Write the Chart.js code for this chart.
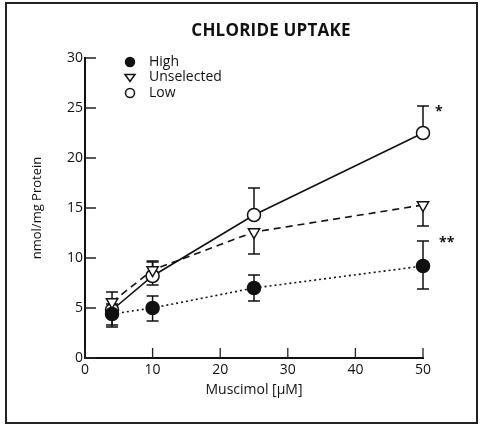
<!DOCTYPE html>
<html>
<head>
<meta charset="utf-8">
<script src="https://cdn.jsdelivr.net/npm/chart.js@4.4.1/dist/chart.umd.min.js"></script>
<style>
  body { margin: 0; background: #fff; }
  #wrap { position: relative; width: 480px; height: 425px; }
  #frame { position: absolute; left: 5px; top: 2px; width: 469px; height: 418px; border: 2px solid #222; pointer-events: none; }
  #title { position: absolute; top: 18px; left: 0; width: 542px; text-align: center; font: bold 17px "Open Sans"; color: #111; letter-spacing: 0.2px; }
</style>
</head>
<body>
<div id="wrap">
  <canvas id="chart" width="480" height="425"></canvas>
  <div id="frame"></div>
  <div id="title">CHLORIDE UPTAKE</div>
</div>
<script>
// data
var doses = [4, 10, 25, 50];
var xTicks = [0, 10, 20, 30, 40, 50];
var yTicks = [0, 5, 10, 15, 20, 25, 30];

var high = [4.4, 5.0, 7.0, 9.2];
var highUp = [1.0, 1.2, 1.3, 2.5];
var highDown = [1.3, 1.3, 1.3, 2.3];

var unsel = [5.6, 8.8, 12.6, 15.3];
var unselUp = [1.0, 0.9, 0, 0];
var unselDown = [0, 0, 2.2, 2.1];

var low = [4.8, 8.2, 14.3, 22.5];
var lowUp = [0, 1.4, 2.7, 2.7];
var lowDown = [1.5, 0.9, 0, 0];

var seriesNames = ['High', 'Unselected', 'Low'];
var marks = ['', '', '', '**'];   // next to High
var marksLow = ['', '', '', '*'];  // next to Low

var FONT = 'Open Sans';

function pts(ys) {
  return doses.map(function (d, i) { return { x: d, y: ys[i] }; });
}

// error bars + significance marks
var errorBars = {
  id: 'errorBars',
  beforeDatasetsDraw: function (chart) {
    var ctx = chart.ctx, xs = chart.scales.x, ys = chart.scales.y;
    chart.data.datasets.forEach(function (ds) {
      ctx.save();
      ctx.strokeStyle = '#111';
      ctx.lineWidth = 1.5;
      ds.data.forEach(function (p, i) {
        var px = xs.getPixelForValue(p.x);
        var top = ys.getPixelForValue(p.y + ds.errUp[i]);
        var bot = ys.getPixelForValue(p.y - ds.errDown[i]);
        var mid = ys.getPixelForValue(p.y);
        ctx.beginPath();
        if (ds.errUp[i] > 0) {
          ctx.moveTo(px, mid); ctx.lineTo(px, top);
          ctx.moveTo(px - 6, top); ctx.lineTo(px + 6, top);
        }
        if (ds.errDown[i] > 0) {
          ctx.moveTo(px, mid); ctx.lineTo(px, bot);
          ctx.moveTo(px - 6, bot); ctx.lineTo(px + 6, bot);
        }
        ctx.stroke();
      });
      ctx.restore();
    });
  },
  afterDatasetsDraw: function (chart) {
    var ctx = chart.ctx, xs = chart.scales.x, ys = chart.scales.y;
    ctx.save();
    ctx.fillStyle = '#111';
    ctx.font = 'bold 14px "' + FONT + '"';
    ctx.textBaseline = 'middle';
    doses.forEach(function (d, i) {
      if (marks[i]) ctx.fillText(marks[i], xs.getPixelForValue(d) + 16, ys.getPixelForValue(high[i] + 2.3));
      if (marksLow[i]) ctx.fillText(marksLow[i], xs.getPixelForValue(d) + 12, ys.getPixelForValue(low[i] + 2.1));
    });
    ctx.restore();
  }
};

// inward tick marks
var innerTicks = {
  id: 'innerTicks',
  afterDraw: function (chart) {
    var ctx = chart.ctx, xs = chart.scales.x, ys = chart.scales.y, a = chart.chartArea;
    ctx.save();
    ctx.strokeStyle = '#222';
    ctx.lineWidth = 1.3;
    ctx.beginPath();
    yTicks.forEach(function (v) {
      var py = ys.getPixelForValue(v);
      ctx.moveTo(a.left, py); ctx.lineTo(a.left + 11, py);
    });
    xTicks.forEach(function (v) {
      var px = xs.getPixelForValue(v);
      ctx.moveTo(px, a.bottom); ctx.lineTo(px, a.bottom - 10);
    });
    ctx.stroke();
    ctx.restore();
  }
};

// legend inside the plot, top-left
var innerLegend = {
  id: 'innerLegend',
  afterDraw: function (chart) {
    var ctx = chart.ctx;
    ctx.save();
    ctx.font = '14px "' + FONT + '"';
    ctx.textBaseline = 'middle';
    chart.data.datasets.forEach(function (ds, i) {
      var cx = 130, cy = 62 + i * 15.5;
      ctx.fillStyle = ds.pointBackgroundColor;
      ctx.strokeStyle = '#111';
      ctx.lineWidth = 1.5;
      ctx.beginPath();
      if (ds.pointStyle === 'triangle') {
        ctx.moveTo(cx - 5, cy - 3); ctx.lineTo(cx + 5, cy - 3); ctx.lineTo(cx, cy + 4); ctx.closePath();
      } else {
        ctx.arc(cx, cy, 4.5, 0, Math.PI * 2);
      }
      ctx.fill();
      ctx.stroke();
      ctx.fillStyle = '#111';
      ctx.fillText(ds.label, 149, cy);
    });
    ctx.restore();
  }
};

new Chart(document.getElementById('chart'), {
  type: 'line',
  data: {
    datasets: [
      {
        label: seriesNames[0], data: pts(high), errUp: highUp, errDown: highDown, clip: false,
        borderColor: '#111', borderWidth: 1.6, borderDash: [2, 3],
        pointStyle: 'circle', pointRadius: 6.5, pointBackgroundColor: '#111', pointBorderColor: '#111'
      },
      {
        label: seriesNames[1], data: pts(unsel), errUp: unselUp, errDown: unselDown, clip: false,
        borderColor: '#111', borderWidth: 1.6, borderDash: [7, 5],
        pointStyle: 'triangle', pointRotation: 180, pointRadius: 6.5, pointBorderWidth: 1.5,
        pointBackgroundColor: '#fff', pointBorderColor: '#111'
      },
      {
        label: seriesNames[2], data: pts(low), errUp: lowUp, errDown: lowDown, clip: false,
        borderColor: '#111', borderWidth: 1.6,
        pointStyle: 'circle', pointRadius: 6.5, pointBorderWidth: 1.5,
        pointBackgroundColor: '#fff', pointBorderColor: '#111'
      }
    ]
  },
  options: {
    responsive: false,
    animation: false,
    layout: { padding: { top: 58, right: 57, bottom: 22, left: 0 } },
    plugins: { legend: { display: false }, tooltip: { enabled: false } },
    scales: {
      x: {
        type: 'linear', min: 0, max: 50,
        afterBuildTicks: function (s) { s.ticks = xTicks.map(function (v) { return { value: v }; }); },
        afterFit: function (s) { s.height = 45; },
        grid: { display: false, drawTicks: false },
        border: { display: true, color: '#111', width: 2 },
        ticks: { color: '#111', padding: 4, font: { family: FONT, size: 14 } },
        title: { display: true, text: 'Muscimol [µM]', color: '#111', align: 'center', padding: { top: 5, bottom: 5 }, font: { family: FONT, size: 14 } }
      },
      y: {
        min: 0, max: 30,
        afterBuildTicks: function (s) { s.ticks = yTicks.map(function (v) { return { value: v }; }); },
        afterFit: function (s) { s.width = 85; },
        grid: { display: false, drawTicks: false },
        border: { display: true, color: '#111', width: 2 },
        ticks: { color: '#111', padding: 2, font: { family: FONT, size: 14 } },
        title: { display: true, text: 'nmol/mg Protein', color: '#111', padding: { top: 29, bottom: 0 }, font: { family: FONT, size: 13 } }
      }
    }
  },
  plugins: [errorBars, innerTicks, innerLegend]
});
</script>
</body>
</html>
